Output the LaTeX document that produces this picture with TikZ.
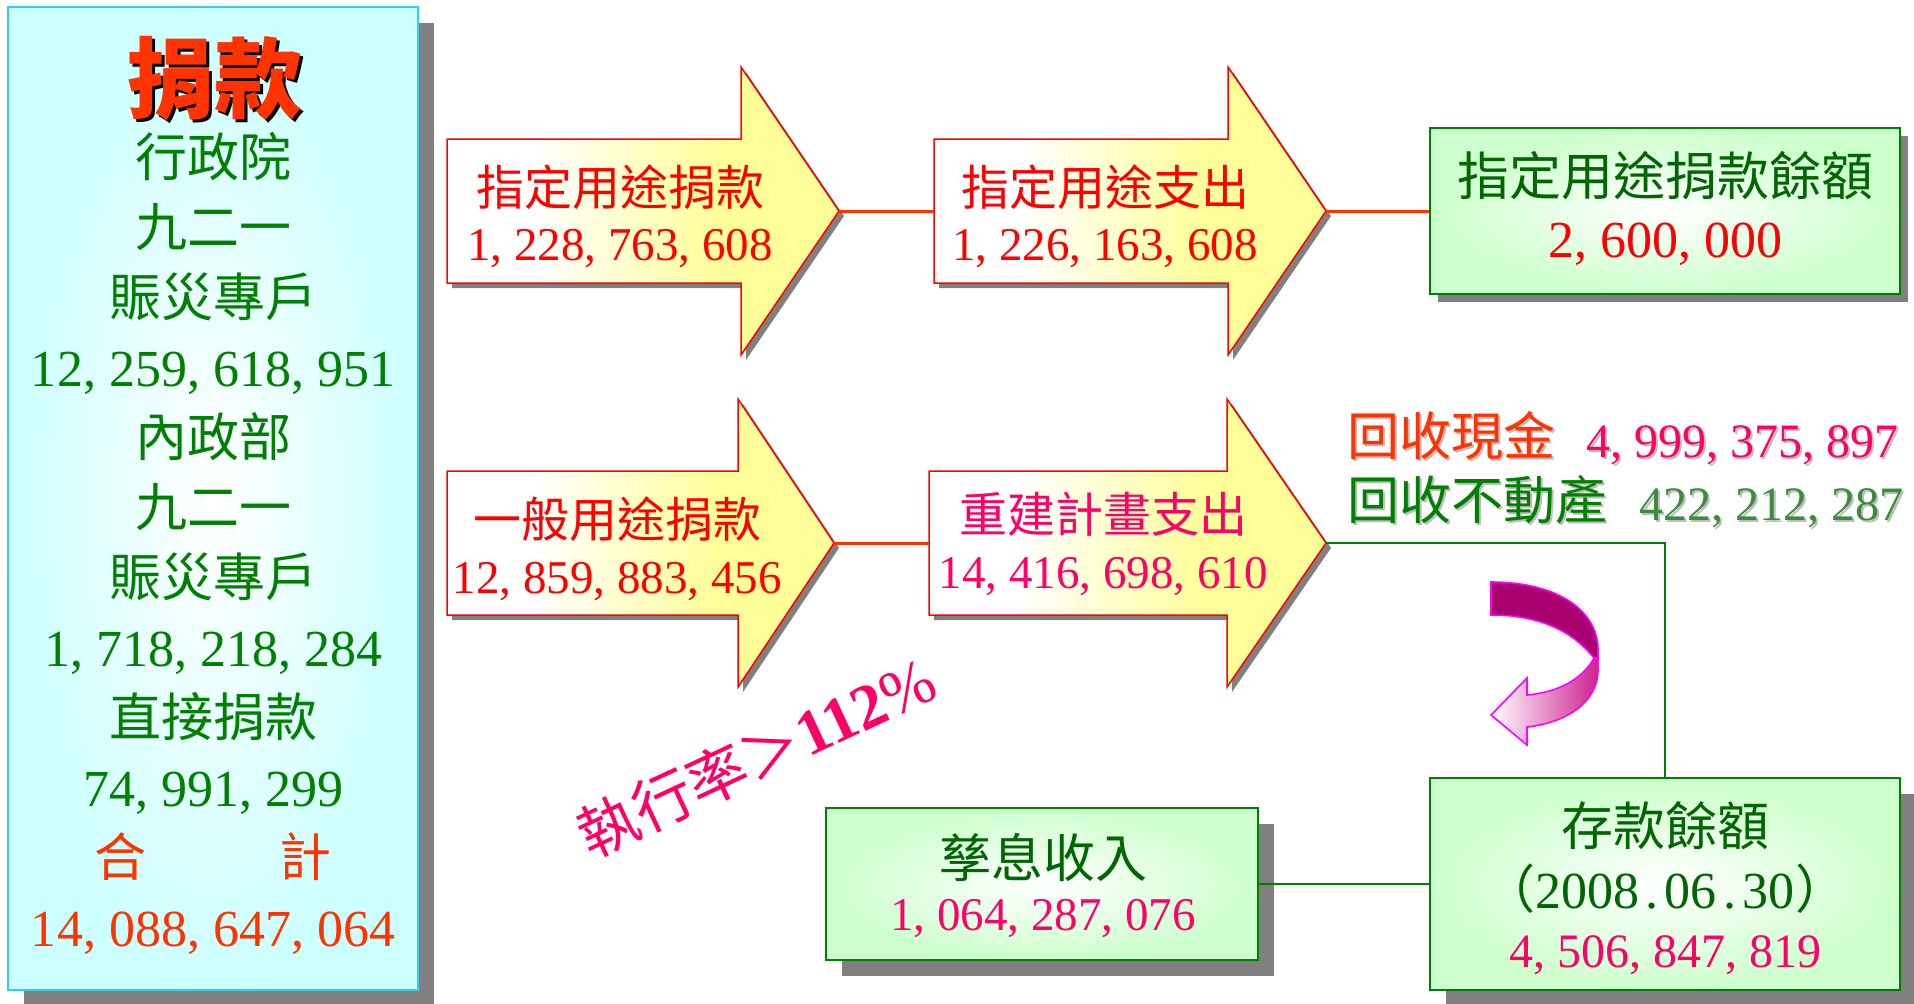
\documentclass[tikz,border=0pt]{standalone}
\usepackage{fontspec}
\setmainfont{Liberation Serif}
\newfontfamily\cjk{Noto Sans CJK TC}
\usetikzlibrary{shadows}
\definecolor{tgreen}{RGB}{0,128,0}
\definecolor{dgreen}{RGB}{0,102,0}
\definecolor{ored}{RGB}{255,51,0}
\definecolor{pred}{RGB}{255,0,102}
\definecolor{mgreen}{RGB}{60,140,60}
\definecolor{bred}{RGB}{255,0,0}
\definecolor{lcyan}{RGB}{204,255,255}
\definecolor{cborder}{RGB}{51,204,255}
\definecolor{lgreen}{RGB}{204,255,204}
\definecolor{bgreen}{RGB}{0,128,0}
\definecolor{yel}{RGB}{255,255,153}
\definecolor{shgray}{RGB}{128,128,128}
\definecolor{tshgray}{RGB}{190,190,190}
\definecolor{mag}{RGB}{255,0,255}
\definecolor{dmag}{RGB}{168,0,110}
\definecolor{lmag}{RGB}{205,35,145}
\pgfdeclarehorizontalshading{arrowshade}{100bp}{color(0bp)=(white); color(25bp)=(white); color(36bp)=(white); color(60bp)=(yel); color(100bp)=(yel)}
\newcommand\cma{,\hspace{0.25em}}
\newcommand\pdot{\hspace{0.12em}.\hspace{0.13em}}
\tikzset{
  tx/.style={inner sep=0pt, outer sep=0pt, anchor=base},
  txw/.style={inner sep=0pt, outer sep=0pt, anchor=base west},
  fL/.style={font=\fontsize{26pt}{30pt}\selectfont},
  fM/.style={font=\fontsize{24pt}{28pt}\selectfont},
  fS/.style={font=\fontsize{23.5pt}{28pt}\selectfont},
  shadowA/.style={drop shadow={shadow xshift=8pt, shadow yshift=-8pt, fill=shgray, opacity=1}},
  shadowB/.style={drop shadow={shadow xshift=4pt, shadow yshift=-4pt, fill=shgray, opacity=1}},
  shadowC/.style={drop shadow={shadow xshift=2.5pt, shadow yshift=-2.5pt, fill=shgray, opacity=1}},
  gbox/.style={draw=bgreen, line width=0.9pt, inner color=white, outer color=lgreen, inner sep=0pt},
  arrowst/.style={draw=bred, line width=0.75pt, shading=arrowshade, shadowC},
  rline/.style={draw=ored, line width=1.5pt},
  gline/.style={draw=bgreen, line width=1pt},
  gline2/.style={draw=bgreen, line width=1.4pt},
}
\begin{document}
\begin{tikzpicture}[x=0.5pt, y=-0.5pt]
\useasboundingbox (0,0) rectangle (1914,1003);

% left box
\node[draw=cborder, line width=1pt, inner color=white, outer color=lcyan,
      minimum width=205pt, minimum height=491.5pt, inner sep=0pt, shadowA] (lbox) at (213,498.5) {};
\node[tx, text=black, font={\fontsize{44pt}{48pt}\selectfont\cjk\bfseries}] (titles) at (217,114) {捐款};
\node[tx, text=ored, font={\fontsize{44pt}{48pt}\selectfont\cjk\bfseries}] (title) at (214,111) {捐款};
\node[tx, fL, text=tgreen] (l1) at (213,176) {\cjk 行政院};
\node[tx, fL, text=tgreen] (l2) at (213,246) {\cjk 九二一};
\node[tx, fL, text=tgreen] (l3) at (213,316) {\cjk 賑災專戶};
\node[tx, fL, text=tgreen] (l4) at (213,386) {12\cma259\cma618\cma951};
\node[tx, fL, text=tgreen] (l5) at (213,456) {\cjk 內政部};
\node[tx, fL, text=tgreen] (l6) at (213,526) {\cjk 九二一};
\node[tx, fL, text=tgreen] (l7) at (213,596) {\cjk 賑災專戶};
\node[tx, fL, text=tgreen] (l8) at (213,666) {1\cma718\cma218\cma284};
\node[tx, fL, text=tgreen] (l9) at (213,736) {\cjk 直接捐款};
\node[tx, fL, text=tgreen] (l10) at (213,806) {74\cma991\cma299};
\node[tx, fL, text=ored] (l11) at (213,876) {\cjk 合\hspace{2.55em}計};
\node[tx, fL, text=ored] (l12) at (213,946) {14\cma088\cma647\cma064};

% arrows
\shadedraw[arrowst] (447,139) -- (741,139) -- (741,67) -- (839,211) -- (741,355) -- (741,283) -- (447,283) -- cycle;
\shadedraw[arrowst] (934,139) -- (1228,139) -- (1228,67) -- (1326,211) -- (1228,355) -- (1228,283) -- (934,283) -- cycle;
\shadedraw[arrowst] (447,471) -- (738,471) -- (738,399) -- (834,543) -- (738,687) -- (738,615) -- (447,615) -- cycle;
\shadedraw[arrowst] (929,471) -- (1227,471) -- (1227,399) -- (1326,543) -- (1227,687) -- (1227,615) -- (929,615) -- cycle;
\coordinate (a1tip) at (839,211);
\coordinate (a2in) at (934,211);
\coordinate (a2tip) at (1326,211);
\coordinate (a3tip) at (834,543);
\coordinate (a4in) at (929,543);
\coordinate (a4tip) at (1326,543);

\node[tx, fM, text=bred] (t1a) at (620,205) {\cjk 指定用途捐款};
\node[tx, fS, text=bred] (t1b) at (620,260) {1\cma228\cma763\cma608};
\node[tx, fM, text=bred] (t2a) at (1105,205) {\cjk 指定用途支出};
\node[tx, fS, text=bred] (t2b) at (1105,260) {1\cma226\cma163\cma608};
\node[tx, fM, text=bred] (t3a) at (617,537) {\cjk 一般用途捐款};
\node[tx, fS, text=bred] (t3b) at (617,593) {12\cma859\cma883\cma456};
\node[tx, fM, text=pred] (t4a) at (1103,532) {\cjk 重建計畫支出};
\node[tx, fS, text=pred] (t4b) at (1103,588) {14\cma416\cma698\cma610};

% green boxes
\node[gbox, minimum width=235pt, minimum height=83pt, shadowB] (b1) at (1665,211) {};
\node[gbox, minimum width=216pt, minimum height=76pt, shadowA] (b2) at (1042,884) {};
\node[gbox, minimum width=235pt, minimum height=106pt, shadowA] (b3) at (1665,884) {};

\node[tx, fL, text=dgreen] (b1a) at (1665,195) {\cjk 指定用途捐款餘額};
\node[tx, fL, text=bred] (b1b) at (1665,257) {2\cma600\cma000};
\node[tx, fL, text=dgreen] (b2a) at (1043,877) {\cjk 孳息收入};
\node[tx, fS, text=pred] (b2b) at (1043,930) {1\cma064\cma287\cma076};
\node[tx, fL, text=dgreen] (b3a) at (1665,845) {\cjk 存款餘額};
\node[tx, fL, text=dgreen] (b3b) at (1665,908) {{\cjk （}2008\pdot06\pdot30{\cjk ）}};
\node[tx, fM, text=pred] (b3c) at (1665,967) {4\cma506\cma847\cma819};

% recovery texts
\node[txw, fL, text=tshgray] (r1s) at (1349,457) {\cjk 回收現金};
\node[txw, fL, text=ored] (r1) at (1347,455) {\cjk 回收現金};
\node[txw, fM, text=tshgray] (r1ns) at (1588,459) {4\cma999\cma375\cma897};
\node[txw, fM, text=pred] (r1n) at (1586,457) {4\cma999\cma375\cma897};
\node[txw, fL, text=tshgray] (r2s) at (1349,521) {\cjk 回收不動產};
\node[txw, fL, text=tgreen] (r2) at (1347,519) {\cjk 回收不動產};
\node[txw, fM, text=tshgray] (r2ns) at (1641,522) {422\cma212\cma287};
\node[txw, fM, text=mgreen] (r2n) at (1639,520) {422\cma212\cma287};

% execution rate
\node[inner sep=0pt, rotate=25, text=pred, font=\fontsize{30pt}{34pt}\selectfont] (rate) at (756,757) {{\cjk 執行率＞}{\fontsize{32pt}{36pt}\selectfont\textbf{112}\%}};

% connectors
\draw[rline] (a1tip) -- (a2in);
\draw[rline] (a2tip) -- (b1.west);
\draw[rline] (a3tip) -- (a4in);
\draw[gline] (a4tip) -| (b3.north);
\draw[gline2] (b2.east) -- (b3.west);

% curved arrow
\fill[dmag, draw=mag, line width=0.8pt] (1491,582) .. controls (1560,582) and (1598,612) .. (1598,650) -- (1598,658) -- (1594,658) .. controls (1570,628) and (1535,615) .. (1491,615) -- cycle;
\shadedraw[left color=white, right color=lmag, draw=mag, line width=0.8pt] (1594,658) .. controls (1583,678) and (1560,692) .. (1527,695) -- (1527,678) -- (1491,715) -- (1527,745) -- (1527,727) .. controls (1570,722) and (1598,700) .. (1598,670) -- (1598,658) -- cycle;
\end{tikzpicture}
\end{document}
